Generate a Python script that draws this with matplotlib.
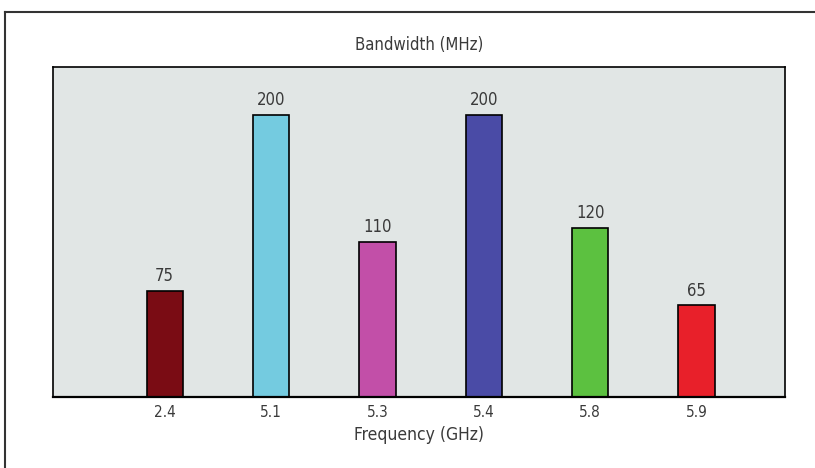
import matplotlib
matplotlib.use("Agg")
import matplotlib.pyplot as plt
from matplotlib.lines import Line2D

plt.rcParams["font.family"] = ["DejaVu Sans"]
plt.rcParams["font.stretch"] = "condensed"

freqs = ["2.4", "5.1", "5.3", "5.4", "5.8", "5.9"]
bandwidth = [75, 200, 110, 200, 120, 65]
colors = ["#7a0c14", "#74cbe0", "#c24fa8", "#4a4ba6", "#5cc140", "#e8202a"]

fig = plt.figure(figsize=(8.15, 4.68), dpi=100)
ax = fig.add_axes([0.065, 0.152, 0.898, 0.705])
ax.set_facecolor("#e1e6e5")

x = list(range(len(freqs)))
bars = ax.bar(x, bandwidth, width=0.34, color=colors, edgecolor="black", linewidth=1.2, zorder=2)
for b, v in zip(bars, bandwidth):
    ax.text(b.get_x() + b.get_width() / 2, v + 4, str(v), ha="center", va="bottom",
            fontsize=12, color="#3a3a3a")

ax.set_xlim(-1.05, 5.83)
ax.set_ylim(0, 234)
ax.set_xticks(x)
ax.set_xticklabels(freqs, fontsize=11, color="#3a3a3a")
ax.tick_params(axis="x", length=0, pad=6)
ax.set_yticks([])
for s in ax.spines.values():
    s.set_linewidth(1.2)
ax.spines["bottom"].set_linewidth(1.6)

ax.set_xlabel("Frequency (GHz)", fontsize=12.5, color="#3a3a3a", labelpad=4)
ax.set_title("Bandwidth (MHz)", fontsize=12, color="#3a3a3a", pad=12)

# outer frame, cut off at right and bottom like the source image
fig.add_artist(Line2D([5 / 815, 1.0], [1 - 12 / 468, 1 - 12 / 468], color="#333333", lw=1.5))
fig.add_artist(Line2D([5 / 815, 5 / 815], [0, 1 - 12 / 468], color="#333333", lw=1.5))

fig.savefig("out.png", dpi=100)
